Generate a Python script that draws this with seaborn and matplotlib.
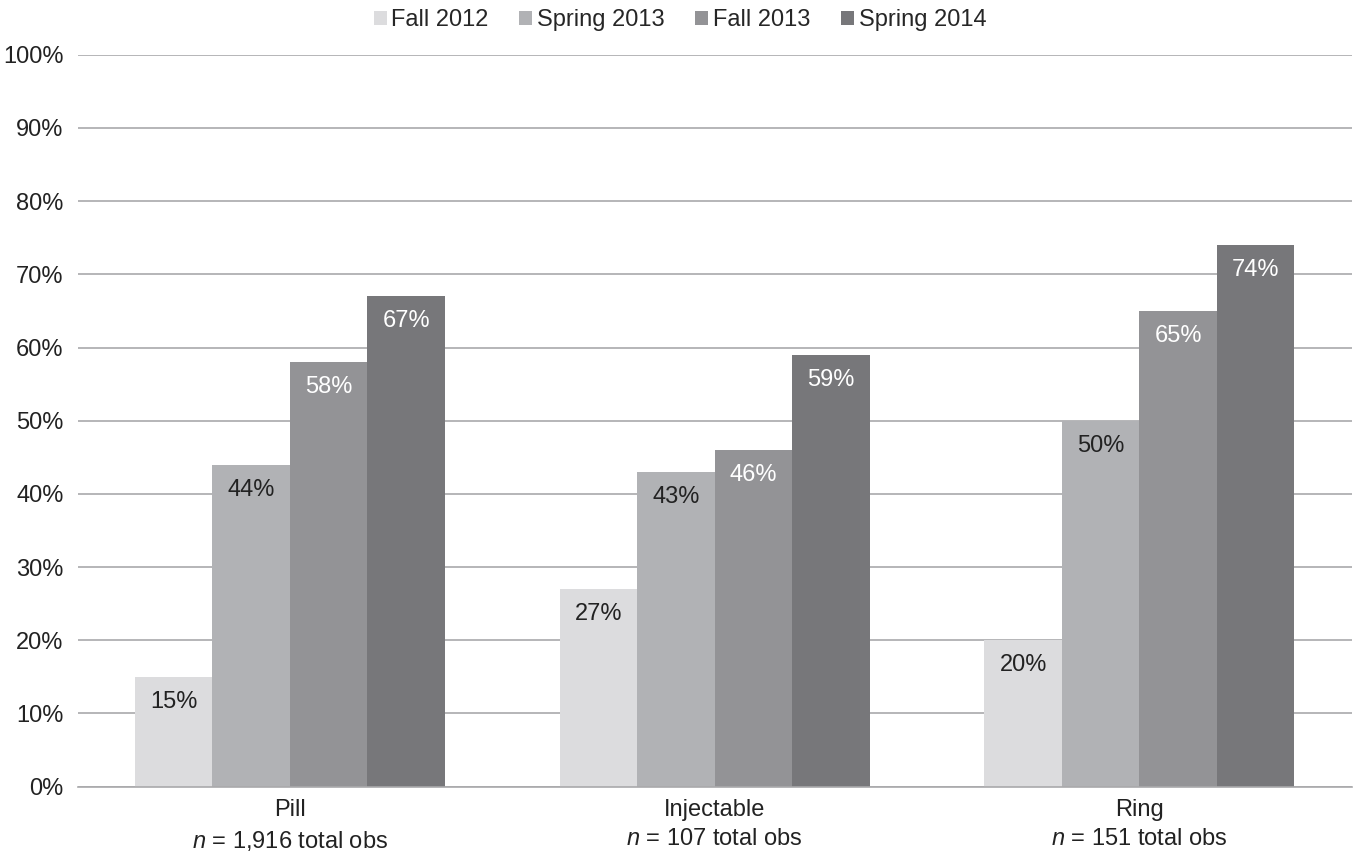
import pandas as pd
import matplotlib.pyplot as plt
import seaborn as sns

methods = ["Pill", "Injectable", "Ring"]
obs = ["1,916", "107", "151"]
terms = ["Fall 2012", "Spring 2013", "Fall 2013", "Spring 2014"]
fall_2012 = [15, 27, 20]
spring_2013 = [44, 43, 50]
fall_2013 = [58, 46, 65]
spring_2014 = [67, 59, 74]

colors = ["#dcdcde", "#b1b2b5", "#939396", "#77777a"]
label_colors = ["#222222", "#222222", "white", "white"]

rows = []
for term, vals in zip(terms, [fall_2012, spring_2013, fall_2013, spring_2014]):
    for m, v in zip(methods, vals):
        rows.append({"method": m, "term": term, "pct": v})
df = pd.DataFrame(rows)

sns.set_style("white")
plt.rcParams["font.family"] = ["Liberation Sans", "DejaVu Sans"]
plt.rcParams["mathtext.fontset"] = "custom"
plt.rcParams["mathtext.it"] = "Liberation Sans:italic"
plt.rcParams["mathtext.rm"] = "Liberation Sans"

fs = 17
fig, ax = plt.subplots(figsize=(13.6, 8.56), dpi=100)
fig.subplots_adjust(left=0.057, right=0.994, bottom=0.081, top=0.936)

sns.barplot(data=df, x="method", y="pct", hue="term", hue_order=terms,
            palette=colors, width=0.73, saturation=1, linewidth=0, ax=ax, legend=True)

# labels inside the top of each bar
for cont, lc in zip(ax.containers, label_colors):
    ax.bar_label(cont, labels=[f"{v:.0f}%" for v in cont.datavalues],
                 padding=-26, color=lc, fontsize=fs)

ax.set_ylim(0, 100)
ax.set_xlim(-0.5, 2.5)
ax.set_yticks(range(0, 101, 10))
ax.set_yticklabels([f"{t}%" for t in range(0, 101, 10)], fontsize=fs, color="#222222")
ax.yaxis.grid(True, color="#a9a9ab", linewidth=1.2)
ax.set_axisbelow(True)
ax.set_xticks(range(len(methods)))
ax.set_xticklabels([f"{m}\n$n$ = {o} total obs" for m, o in zip(methods, obs)],
                   fontsize=fs, color="#222222", linespacing=1.4)
ax.tick_params(axis="y", length=0, pad=10)
ax.tick_params(axis="x", length=0, pad=9)
ax.set_xlabel("")
ax.set_ylabel("")
for s in ["top", "right", "left"]:
    ax.spines[s].set_visible(False)
ax.spines["bottom"].set_color("#a9a9ab")
ax.spines["bottom"].set_linewidth(1.2)

handles, labels = ax.get_legend_handles_labels()
ax.get_legend().remove()
fig.legend(handles, labels, loc="upper center", bbox_to_anchor=(0.5, 1.014), ncol=4,
           frameon=False, fontsize=fs, handlelength=0.55, handleheight=0.55,
           handletextpad=0.2, columnspacing=1.3)

plt.savefig("out.png", dpi=100)
